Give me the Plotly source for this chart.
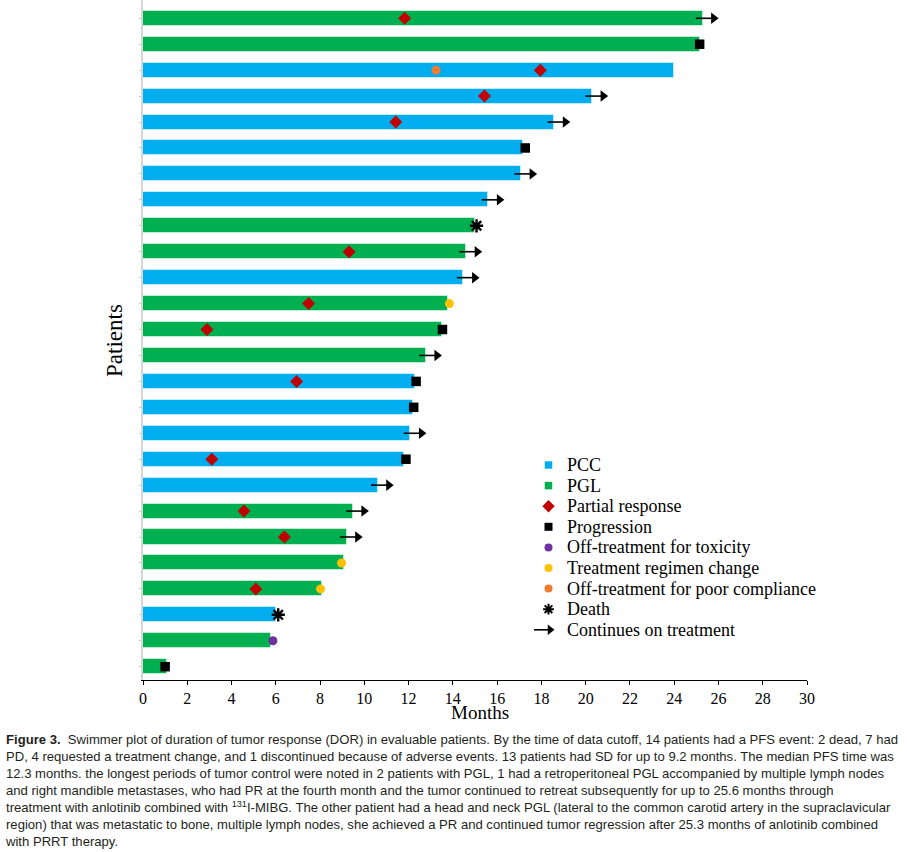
import plotly.graph_objects as go

# ---------------- data (patients listed top to bottom) ----------------
tumor_type = ["PGL", "PGL", "PCC", "PCC", "PCC", "PCC", "PCC", "PCC", "PGL", "PGL",
              "PCC", "PGL", "PGL", "PGL", "PCC", "PCC", "PCC", "PCC", "PCC", "PGL",
              "PGL", "PGL", "PGL", "PCC", "PGL", "PGL"]
duration = [25.28, 25.17, 23.99, 20.29, 18.58, 17.19, 17.08, 15.60, 15.00, 14.60,
            14.48, 13.77, 13.49, 12.78, 12.30, 12.18, 12.08, 11.79, 10.60, 9.48,
            9.20, 9.07, 8.08, 6.02, 5.79, 1.08]

# events: patient number (1 = top) and month
pr_patient = [1, 3, 4, 5, 10, 12, 13, 15, 18, 20, 21, 23]
pr_month = [11.82, 17.95, 15.43, 11.42, 9.31, 7.48, 2.89, 6.94, 3.11, 4.56, 6.39, 5.10]

prog_patient = [2, 6, 13, 15, 16, 18, 26]
prog_month = [25.15, 17.27, 13.53, 12.34, 12.23, 11.88, 1.00]

tox_patient = [25]
tox_month = [5.87]

regimen_patient = [12, 22, 23]
regimen_month = [13.84, 8.97, 8.02]

compliance_patient = [3]
compliance_month = [13.24]

death_patient = [9, 24]
death_month = [15.07, 6.11]

continues_patient = [1, 4, 5, 7, 8, 10, 11, 14, 17, 19, 20, 21]

x_ticks = list(range(0, 31, 2))

# ---------------- styling ----------------
n = len(duration)
def ypos(p):
    return n + 1 - p

SERIF = "Liberation Serif, Times New Roman, serif"
SANS = "Liberation Sans, Arial, sans-serif"
BLUE = "#00AEEF"
GREEN = "#00B050"
RED = "#C00000"
PURPLE = "#7030A0"
YELLOW = "#FFC000"
ORANGE = "#ED7D31"

W, H = 907, 852
L, R, T, B = 143, 100, 0, 172   # plot area: x 143..807, y 0..680
PW, PH = W - L - R, H - T - B

def px_to_paper(px, py):
    return (px - L) / PW, (H - B - py) / PH

fig = go.Figure()

for name, color in [("PCC", BLUE), ("PGL", GREEN)]:
    idx = [i for i, t in enumerate(tumor_type) if t == name]
    fig.add_trace(go.Bar(
        x=[duration[i] for i in idx], y=[ypos(i + 1) for i in idx],
        orientation="h", width=0.58, name=name, showlegend=False,
        marker=dict(color=color, line=dict(color="rgba(255,255,255,0.5)", width=1)),
    ))

def add_markers(name, px, pm, symbol, color, size, line=None):
    fig.add_trace(go.Scatter(
        x=pm, y=[ypos(p) for p in px], mode="markers", name=name, showlegend=False,
        marker=dict(symbol=symbol, color=color, size=size, line=line or dict(width=0)),
    ))

add_markers("Partial response", pr_patient, pr_month, "diamond", RED, 10)
add_markers("Progression", prog_patient, prog_month, "square", "black", 9.5)
add_markers("Off-treatment for toxicity", tox_patient, tox_month, "circle", PURPLE, 9)
add_markers("Treatment regimen change", regimen_patient, regimen_month, "circle", YELLOW, 9)
add_markers("Off-treatment for poor compliance", compliance_patient, compliance_month, "circle", ORANGE, 9)
add_markers("Death", death_patient, death_month, "asterisk-open", "black", 11,
            line=dict(color="black", width=2.4))

# continue arrows: shaft + head
sx, sy, hx, hy = [], [], [], []
for p in continues_patient:
    end = duration[p - 1]
    sx += [end - 0.3, end + 0.45, None]
    sy += [ypos(p), ypos(p), None]
    hx.append(end + 0.5)
    hy.append(ypos(p))
fig.add_trace(go.Scatter(x=sx, y=sy, mode="lines", line=dict(color="black", width=1.6),
                         showlegend=False, hoverinfo="skip"))
fig.add_trace(go.Scatter(x=hx, y=hy, mode="markers", showlegend=False,
                         marker=dict(symbol="triangle-right", color="black", size=10)))

# ---------------- legend (drawn on a pixel-unit overlay axis) ----------------
legend_labels = ["PCC", "PGL", "Partial response", "Progression", "Off-treatment for toxicity",
                 "Treatment regimen change", "Off-treatment for poor compliance", "Death",
                 "Continues on treatment"]
legend_symbols = ["square", "square", "diamond", "square", "circle", "circle", "circle",
                  "asterisk-open", None]
legend_colors = [BLUE, GREEN, RED, "black", PURPLE, YELLOW, ORANGE, "black", "black"]
legend_sizes = [7.5, 7.5, 9.5, 8, 8, 8, 8, 9, 0]

LG_Y0, LG_DY, LG_MX, LG_TX = 465, 20.6, 548.5, 565
for i, (lab, sym, col, sz) in enumerate(zip(legend_labels, legend_symbols, legend_colors, legend_sizes)):
    yy = LG_Y0 + i * LG_DY
    if sym is not None:
        fig.add_trace(go.Scatter(
            x=[LG_MX], y=[yy], xaxis="x2", yaxis="y2", mode="markers", showlegend=False,
            hoverinfo="skip", cliponaxis=False,
            marker=dict(symbol=sym, color=col, size=sz,
                        line=dict(color=col, width=2 if "asterisk" in sym else 0))))
    else:
        fig.add_trace(go.Scatter(
            x=[534, 548], y=[yy, yy], xaxis="x2", yaxis="y2", mode="lines", showlegend=False,
            hoverinfo="skip", cliponaxis=False, line=dict(color="black", width=1.6)))
        fig.add_trace(go.Scatter(
            x=[550], y=[yy], xaxis="x2", yaxis="y2", mode="markers", showlegend=False,
            hoverinfo="skip", cliponaxis=False,
            marker=dict(symbol="triangle-right", color="black", size=9)))
    ax, ay = px_to_paper(LG_TX, yy)
    fig.add_annotation(text=lab, xref="paper", yref="paper", x=ax, y=ay, xanchor="left",
                       yanchor="middle", showarrow=False,
                       font=dict(family=SERIF, size=18, color="black"))

# ---------------- axis titles ----------------
mx, my = px_to_paper(480, 712)
fig.add_annotation(text="Months", xref="paper", yref="paper", x=mx, y=my, xanchor="center",
                   yanchor="middle", showarrow=False, font=dict(family=SERIF, size=19, color="black"))
tx, ty = px_to_paper(114, 341)
fig.add_annotation(text="Patients", xref="paper", yref="paper", x=tx, y=ty, xanchor="center",
                   yanchor="middle", textangle=-90, showarrow=False,
                   font=dict(family=SERIF, size=23, color="black"))

# ---------------- caption ----------------
caption = (
    "<b>Figure 3.</b>  Swimmer plot of duration of tumor response (DOR) in evaluable patients. By the time of data cutoff, 14 patients had a PFS event: 2 dead, 7 had<br>"
    "PD, 4 requested a treatment change, and 1 discontinued because of adverse events. 13 patients had SD for up to 9.2 months. The median PFS time was<br>"
    "12.3 months. the longest periods of tumor control were noted in 2 patients with PGL, 1 had a retroperitoneal PGL accompanied by multiple lymph nodes<br>"
    "and right mandible metastases, who had PR at the fourth month and the tumor continued to retreat subsequently for up to 25.6 months through<br>"
    "treatment with anlotinib combined with <sup>131</sup>I-MIBG. The other patient had a head and neck PGL (lateral to the common carotid artery in the supraclavicular<br>"
    "region) that was metastatic to bone, multiple lymph nodes, she achieved a PR and continued tumor regression after 25.3 months of anlotinib combined<br>"
    "with PRRT therapy."
)
cx, cy = px_to_paper(3, 730)
fig.add_annotation(
    text=caption, xref="paper", yref="paper", x=cx, y=cy,
    xanchor="left", yanchor="top", align="left", showarrow=False,
    font=dict(family=SANS, size=13.1, color="#231f20"),
)

fig.update_layout(
    width=W, height=H,
    margin=dict(l=L, r=R, t=T, b=B, autoexpand=False),
    plot_bgcolor="white", paper_bgcolor="white",
    barmode="overlay", bargap=0,
    font=dict(family=SERIF, color="black"),
    showlegend=False,
    xaxis=dict(
        range=[0, 30], tickvals=x_ticks, showgrid=False, zeroline=False,
        showline=True, linecolor="black", linewidth=1.3,
        ticks="outside", ticklen=4, tickcolor="black", tickwidth=1.3,
        tickfont=dict(family=SERIF, size=16, color="black"),
    ),
    yaxis=dict(
        range=[0.487, 26.705], tickvals=list(range(1, n + 1)), ticktext=[""] * n,
        showgrid=False, zeroline=False, showline=True, linecolor="#d6d6d6", linewidth=2,
        ticks="outside", ticklen=2, tickcolor="#c8c8c8",
    ),
    # overlay axes in page-pixel units (used for the legend marks)
    xaxis2=dict(range=[L, W - R], overlaying="x", visible=False, fixedrange=True),
    yaxis2=dict(range=[H - B, T], overlaying="y", visible=False, fixedrange=True),
)

fig.write_html("out.html", config={"displayModeBar": False},
               post_script="document.body.style.margin='0';")
